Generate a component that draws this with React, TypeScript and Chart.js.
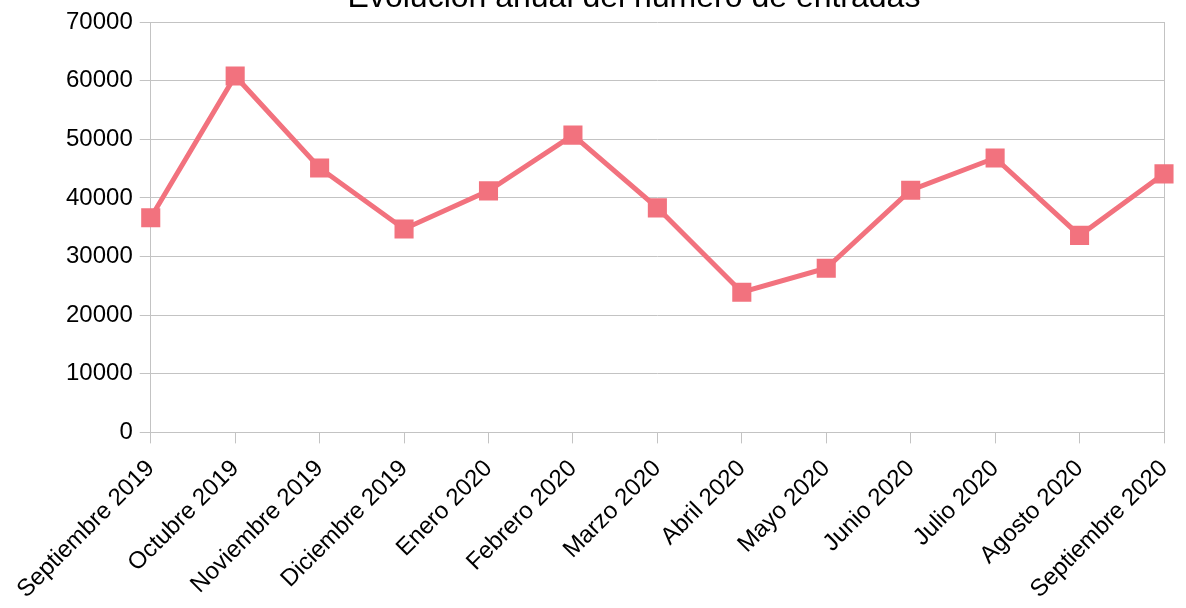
import React, { useEffect, useRef } from "react";
import { Chart, registerables } from "chart.js";

Chart.register(...registerables);

const categories: string[] = [
  "Septiembre 2019",
  "Octubre 2019",
  "Noviembre 2019",
  "Diciembre 2019",
  "Enero 2020",
  "Febrero 2020",
  "Marzo 2020",
  "Abril 2020",
  "Mayo 2020",
  "Junio 2020",
  "Julio 2020",
  "Agosto 2020",
  "Septiembre 2020",
];

const entradas: number[] = [
  36600, 60800, 45100, 34700, 41200, 50700, 38300, 23900, 28000, 41300, 46800, 33600, 44100,
];

const titleText = "Evolución anual del número de entradas";
const yMin = 0;
const yMax = 70000;
const yStep = 10000;

const LINE_COLOR = "rgb(242,114,126)";
const GRID_COLOR = "#c3c3c3";
const FONT = "'Liberation Sans', Arial, sans-serif";

const titlePlugin = {
  id: "cutTitle",
  afterDraw(chart: any) {
    const ctx = chart.ctx;
    ctx.save();
    ctx.font = `32px ${FONT}`;
    ctx.fillStyle = "#000";
    ctx.textAlign = "center";
    ctx.textBaseline = "alphabetic";
    ctx.fillText(titleText, 634, 7);
    ctx.restore();
  },
};

export default function App() {
  const canvasRef = useRef<HTMLCanvasElement | null>(null);

  useEffect(() => {
    document.body.style.margin = "0";
    const canvas = canvasRef.current;
    if (!canvas) return;
    const last = categories.length - 1;
    const chart = new Chart(canvas, {
      type: "line",
      data: {
        labels: categories,
        datasets: [
          {
            label: "Entradas",
            data: entradas,
            borderColor: LINE_COLOR,
            backgroundColor: LINE_COLOR,
            borderWidth: 5,
            pointStyle: "rect",
            pointRadius: 13.5,
            pointHoverRadius: 13.5,
            pointBorderWidth: 0,
            pointBackgroundColor: LINE_COLOR,
            tension: 0,
            fill: false,
          },
        ],
      },
      plugins: [titlePlugin],
      options: {
        responsive: false,
        animation: false,
        devicePixelRatio: 1,
        layout: { padding: { left: 59, right: 22, top: 22, bottom: -7 } },
        plugins: {
          legend: { display: false },
          tooltip: { enabled: false },
          title: { display: false },
        },
        scales: {
          x: {
            offset: false,
            afterFit: (scale: any) => {
              scale.paddingRight = 0;
            },
            grid: {
              display: true,
              drawOnChartArea: true,
              color: (ctx: any) => (ctx.index === last ? GRID_COLOR : "rgba(0,0,0,0)"),
              tickColor: GRID_COLOR,
              tickLength: 11,
            },
            border: { display: true, color: GRID_COLOR },
            ticks: {
              autoSkip: false,
              minRotation: 45,
              maxRotation: 45,
              color: "#000",
              padding: 11,
              font: { family: FONT, size: 24 },
            },
          },
          y: {
            min: yMin,
            max: yMax,
            grid: {
              color: GRID_COLOR,
              tickColor: GRID_COLOR,
              tickLength: 11,
            },
            border: { display: true, color: GRID_COLOR },
            ticks: {
              stepSize: yStep,
              color: "#000",
              padding: 7,
              font: { family: FONT, size: 24 },
              callback: (v: any) => String(v),
            },
          },
        },
      },
    });
    return () => chart.destroy();
  }, []);

  return (
    <div style={{ width: 1186, height: 608, position: "relative", background: "#fff" }}>
      <canvas ref={canvasRef} width={1186} height={608} style={{ display: "block" }} />
    </div>
  );
}
